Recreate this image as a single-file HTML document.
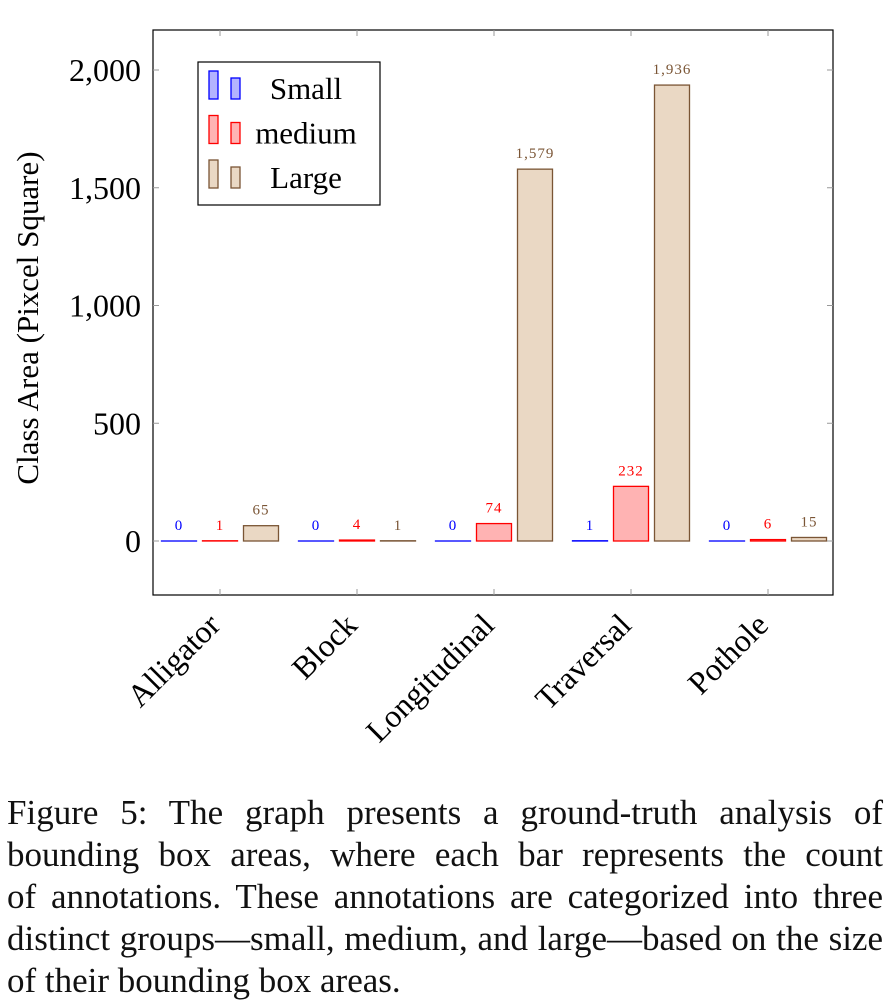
<!DOCTYPE html>
<html><head><meta charset="utf-8"><style>
body{margin:0;background:#fff;width:889px;height:999px;overflow:hidden;font-family:"Liberation Serif",serif}
#cap{position:absolute;left:7px;top:792px;width:876px;font-size:35px;line-height:42px;color:#111}
#cap div{text-align:justify;text-align-last:justify;white-space:nowrap;height:42px}
#cap div.last{text-align-last:left}
</style></head><body>
<svg id="chart" width="889" height="780" style="position:absolute;left:0;top:0" font-family="Liberation Serif, serif"></svg>
<div id="cap">
<div>Figure 5: The graph presents a ground-truth analysis of</div>
<div>bounding box areas, where each bar represents the count</div>
<div>of annotations. These annotations are categorized into three</div>
<div>distinct groups—small, medium, and large—based on the size</div>
<div class="last">of their bounding box areas.</div>
</div>
<script>
const categories=["Alligator","Block","Longitudinal","Traversal","Pothole"];
const smallVals=[0,0,0,1,0];
const mediumVals=[1,4,74,232,6];
const largeVals=[65,1,1579,1936,15];
const yTicks=[0,500,1000,1500,2000];
const ns="http://www.w3.org/2000/svg",svg=document.getElementById("chart");
function mk(t,a,p){const e=document.createElementNS(ns,t);for(const k in a)e.setAttribute(k,a[k]);(p||svg).appendChild(e);return e;}
const L=153,R=833,T=30,B=595;
const y=v=>541-v*0.2355;
const xc=i=>220+i*137;
const series=[{v:smallVals,f:"#b3b3ff",s:"#0000ff",t:"#0000ff",o:-41,n:"small"},{v:mediumVals,f:"#ffb3b3",s:"#ff0000",t:"#ff0000",o:0,n:"medium"},{v:largeVals,f:"#ead8c4",s:"#7a5535",t:"#7a5535",o:41,n:"large"}];
const fr=mk("rect",{x:L,y:T,width:R-L,height:B-T,fill:"none",stroke:"#000","stroke-width":1.2});

yTicks.forEach(v=>{
 mk("line",{x1:L,x2:L+6,y1:y(v),y2:y(v),stroke:"#999"});mk("line",{x1:R-6,x2:R,y1:y(v),y2:y(v),stroke:"#999"});
 const t=mk("text",{x:141,y:y(v)+11,"text-anchor":"end","font-size":32});t.textContent=v.toLocaleString("en-US");
 
});
const yt=mk("text",{transform:"translate(38,318) rotate(-90)","text-anchor":"middle","font-size":31});yt.textContent="Class Area (Pixcel Square)";

categories.forEach((c,i)=>{
 const x=xc(i);
 mk("line",{x1:x,x2:x,y1:B,y2:B-6,stroke:"#999"});mk("line",{x1:x,x2:x,y1:T,y2:T+6,stroke:"#999"});
 const t=mk("text",{transform:`translate(${x+2},${B+32}) rotate(-45)`,"text-anchor":"end","font-size":32});t.textContent=c;
 
 series.forEach(s=>{
  const v=s.v[i],bx=x+s.o-17.5,top=y(v);
  const r=mk("rect",{x:bx,y:top,width:35,height:Math.max(y(0)-top,0.01),fill:s.f,stroke:s.s,"stroke-width":1.3});
  
  const lt=mk("text",{x:x+s.o,y:top-11,"text-anchor":"middle","font-size":15,fill:s.t,"letter-spacing":"1"});lt.textContent=v.toLocaleString("en-US");
  
 });
});
const lg=mk("g",{});
mk("rect",{x:198,y:62,width:182,height:143,fill:"#fff",stroke:"#000","stroke-width":1.2},lg);
["Small","medium","Large"].forEach((n,k)=>{
 const s=series[k],cy=86+k*44.5;
 mk("rect",{x:209,y:cy-15,width:9,height:28,fill:s.f,stroke:s.s,"stroke-width":1.3},lg);
 mk("rect",{x:231,y:cy-8,width:9,height:21,fill:s.f,stroke:s.s,"stroke-width":1.3},lg);
 const t=mk("text",{x:306,y:cy+13,"text-anchor":"middle","font-size":31},lg);t.textContent=n;
 
});
</script>
</body></html>
